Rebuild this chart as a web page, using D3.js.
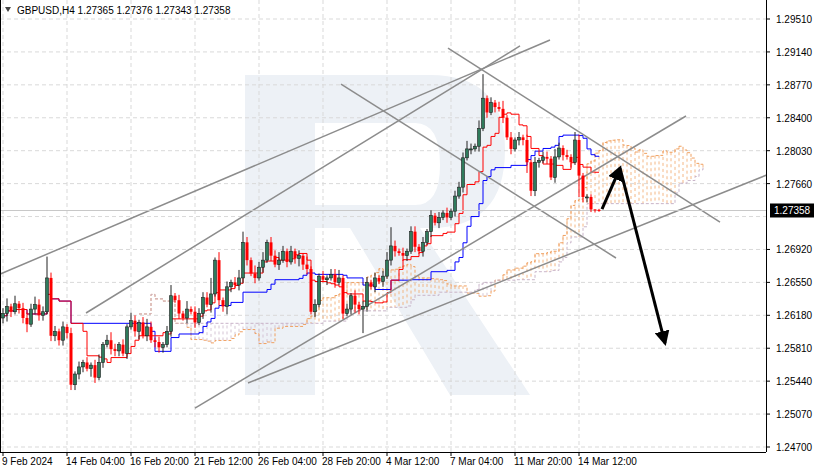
<!DOCTYPE html>
<html><head><meta charset="utf-8">
<script src="https://cdn.jsdelivr.net/npm/d3@7"></script>
<style>body{margin:0;background:#fff}svg{display:block;font-family:"Liberation Sans",Arial,sans-serif}</style>
</head><body><svg id="c" width="816" height="472"></svg>
<script>
'use strict';
var closes = [1.2620,1.2628,1.2622,1.2631,1.2626,1.2615,1.2608,1.2625,1.2630,1.2618,
  1.2622,1.2660,1.2595,1.2600,1.2590,1.2605,1.2598,1.2540,1.2552,1.2560,
  1.2565,1.2558,1.2562,1.2548,1.2565,1.2585,1.2590,1.2580,1.2578,1.2585,
  1.2575,1.2605,1.2612,1.2600,1.2610,1.2595,1.2605,1.2590,1.2588,1.2582,
  1.2585,1.2600,1.2640,1.2635,1.2620,1.2615,1.2625,1.2622,1.2610,1.2620,
  1.2638,1.2630,1.2642,1.2680,1.2635,1.2628,1.2650,1.2655,1.2652,1.2660,
  1.2700,1.2680,1.2665,1.2660,1.2672,1.2680,1.2700,1.2685,1.2675,1.2680,
  1.2690,1.2678,1.2690,1.2682,1.2685,1.2675,1.2670,1.2622,1.2630,1.2662,
  1.2658,1.2660,1.2664,1.2655,1.2660,1.2620,1.2625,1.2640,1.2630,1.2625,
  1.2628,1.2655,1.2650,1.2660,1.2656,1.2662,1.2680,1.2696,1.2690,1.2688,
  1.2685,1.2690,1.2712,1.2695,1.2690,1.2700,1.2712,1.2730,1.2722,1.2728,
  1.2733,1.2728,1.2735,1.2752,1.2762,1.2795,1.2805,1.2805,1.2808,1.2828,
  1.2862,1.2846,1.2857,1.2852,1.2850,1.2840,1.2818,1.2805,1.2815,1.2818,
  1.2815,1.2790,1.2758,1.2790,1.2792,1.2796,1.2794,1.2773,1.2796,1.2806,
  1.2798,1.2796,1.2790,1.2815,1.2775,1.2751,1.2751,1.2737,1.27365,1.27358];
// wick lengths, one digit per bar, unit = 3 pips
var wickUp = '2313122232' + '2822121212' + '1212312321' + '2132123212' + '1241213122' +
  '2261312123' + '4213231223' + '2121213121' + '2122312121' + '2212123721' +
  '2122121212' + '1212223213' + '9121231212' + '1212122132' + '1213211100';
var wickDn = '2321223122' + '2122222222' + '2132121222' + '1212312122' + '2121212121' +
  '2131223212' + '2212121212' + '1212322121' + '1212121232' + '9212121221' +
  '2212121212' + '1212121212' + '1212121212' + '2422212121' + '2121822111';
var priceTicks = [1.2951,1.2914,1.2877,1.2840,1.2803,1.2766,1.2729,1.2692,1.2655,1.2618,1.2581,1.2544,1.2507,1.2470];
var dateLabels = ['9 Feb 2024','14 Feb 04:00','16 Feb 20:00','21 Feb 12:00','26 Feb 04:00',
  '28 Feb 20:00','4 Mar 12:00','7 Mar 04:00','11 Mar 20:00','14 Mar 12:00'];
var trendLines = [
  [[-1.25,1.26633],[136.75,1.29274]],
  [[20.75,1.26206],[129.25,1.29207]],
  [[48,1.25138],[170.75,1.28420]],
  [[61.25,1.25419],[202.75,1.27970]],
  [[111.25,1.29184],[179.25,1.27228]],
  [[84.5,1.28779],[153.25,1.26824]]
];
var arrowPath = [[149.75,1.27374],[154.25,1.27835],[165.5,1.25868]];
var lastPrice = 1.27358;

var svg = d3.select('#c');
var x = d3.scaleLinear().domain([0, 1]).range([3, 7]);
var y = d3.scaleLinear().domain([1.2470, 1.2951]).range([447, 19]);
var plotR = 766;

var bars = closes.map((c, i) => {
  var o = i ? closes[i - 1] : 1.2615;
  if (i == closes.length - 1) o = 1.27365;
  return { i: i, o: o, c: c,
    h: Math.max(o, c) + (+wickUp[i] || 0) * 0.0003,
    l: Math.min(o, c) - (+wickDn[i] || 0) * 0.0003 };
});
bars[bars.length - 1].h = 1.27376; bars[bars.length - 1].l = 1.27343;

// watermark
svg.append('path').attr('fill', '#edf1f6').attr('fill-rule', 'evenodd')
  .attr('d', 'M245,75H430Q505,75 505,150Q505,228 430,228H420L530,395H450L350,228H315V395H245Z M315,123V205H415Q440,205 440,165Q440,123 415,123Z');

// grid
var grid = svg.append('g').attr('stroke', '#d9d9d9').attr('stroke-dasharray', '4,3');
grid.selectAll('line.h').data(priceTicks).join('line')
  .attr('x1', 0).attr('x2', plotR).attr('y1', d => y(d)).attr('y2', d => y(d));
grid.selectAll('line.v').data(dateLabels).join('line')
  .attr('x1', (d, i) => x(i * 16)).attr('x2', (d, i) => x(i * 16)).attr('y1', 0).attr('y2', 452);

// ichimoku
function mid(n, i) {
  var s = bars.slice(Math.max(0, i - n + 1), i + 1);
  return (d3.max(s, d => d.h) + d3.min(s, d => d.l)) / 2;
}
var tenkan = bars.map(b => mid(9, b.i));
var kijun = bars.map(b => mid(26, b.i));
var cloud = [];
bars.forEach(b => {
  if (b.i < 8) return;
  cloud.push({ i: b.i + 26, a: (tenkan[b.i] + kijun[b.i]) / 2, b: mid(52, b.i) });
});
svg.append('g').attr('opacity', 0.8).selectAll('line').data(cloud).join('line')
  .attr('x1', d => x(d.i)).attr('x2', d => x(d.i))
  .attr('y1', d => y(d.a)).attr('y2', d => y(d.b))
  .attr('stroke', d => d.a >= d.b ? '#f2a86a' : '#cdb9cd').attr('stroke-dasharray', '3,3');
var ln = (acc) => d3.line().x(d => x(d.i)).y(acc).curve(d3.curveStepAfter);
svg.append('path').datum(cloud).attr('d', ln(d => y(d.a))).attr('fill', 'none')
  .attr('stroke', '#f0a060').attr('stroke-dasharray', '3,2');
svg.append('path').datum(cloud).attr('d', ln(d => y(d.b))).attr('fill', 'none')
  .attr('stroke', '#c9b4c9').attr('stroke-dasharray', '3,2');
svg.append('path').datum(bars).attr('d', ln(d => y(kijun[d.i]))).attr('fill', 'none').attr('stroke', '#0000ff');
svg.append('path').datum(bars).attr('d', ln(d => y(tenkan[d.i]))).attr('fill', 'none').attr('stroke', '#ff0000');

// trend lines
svg.append('g').selectAll('line').data(trendLines).join('line')
  .attr('x1', d => x(d[0][0])).attr('y1', d => y(d[0][1]))
  .attr('x2', d => x(d[1][0])).attr('y2', d => y(d[1][1]))
  .attr('stroke', '#8c8c8c').attr('stroke-width', 1.5);
svg.append('line').attr('x1', 0).attr('x2', plotR).attr('y1', y(lastPrice)).attr('y2', y(lastPrice))
  .attr('stroke', '#c8c8c8');

// candles
var cg = svg.append('g').selectAll('g').data(bars).join('g');
cg.append('line').attr('x1', d => x(d.i)).attr('x2', d => x(d.i))
  .attr('y1', d => y(d.h)).attr('y2', d => y(d.l)).attr('stroke', d => d.c >= d.o ? '#222' : '#ff0000');
cg.append('rect').attr('x', d => x(d.i) - 1.5).attr('width', 3)
  .attr('y', d => y(Math.max(d.o, d.c))).attr('height', d => Math.max(1, Math.abs(y(d.o) - y(d.c))))
  .attr('fill', d => d.c >= d.o ? '#2f7b5c' : '#ff0000')
  .attr('stroke', d => d.c >= d.o ? '#1d1d1d' : 'none').attr('stroke-width', 0.6);

// arrows
svg.append('defs').append('marker').attr('id', 'ah').attr('viewBox', '0 0 10 10')
  .attr('refX', 8).attr('refY', 5).attr('markerWidth', 5).attr('markerHeight', 5).attr('orient', 'auto')
  .append('path').attr('d', 'M0,0L10,5L0,10Z').attr('fill', '#000');
[[arrowPath[0], arrowPath[1]], [arrowPath[1], arrowPath[2]]].forEach(s => {
  svg.append('line').attr('x1', x(s[0][0])).attr('y1', y(s[0][1]))
    .attr('x2', x(s[1][0])).attr('y2', y(s[1][1]))
    .attr('stroke', '#000').attr('stroke-width', 3).attr('marker-end', 'url(#ah)');
});

// axes
svg.append('rect').attr('x', plotR).attr('y', 0).attr('width', 50).attr('height', 472).attr('fill', '#fff');
svg.append('rect').attr('x', 0).attr('y', 452).attr('width', 816).attr('height', 20).attr('fill', '#fff');
svg.append('line').attr('x1', plotR + 0.5).attr('x2', plotR + 0.5).attr('y1', 0).attr('y2', 452).attr('stroke', '#000');
svg.append('line').attr('x1', 0).attr('x2', plotR).attr('y1', 452.5).attr('y2', 452.5).attr('stroke', '#000');
svg.append('line').attr('x1', 0.5).attr('x2', 0.5).attr('y1', 0).attr('y2', 452).attr('stroke', '#000');
var yt = svg.append('g').selectAll('g').data(priceTicks.filter(d => Math.abs(y(d) - y(lastPrice)) > 10)).join('g');
yt.append('line').attr('x1', plotR).attr('x2', plotR + 4).attr('y1', d => y(d)).attr('y2', d => y(d)).attr('stroke', '#000');
yt.append('text').attr('x', 776).attr('y', d => y(d) + 4).attr('font-size', 10).text(d => d.toFixed(5));
svg.selectAll('text.d').data(dateLabels).join('text')
  .attr('x', (d, i) => x(i * 16) - 1).attr('y', 465).attr('font-size', 10).text(d => d);
svg.selectAll('line.dt').data(dateLabels).join('line')
  .attr('x1', (d, i) => x(i * 16)).attr('x2', (d, i) => x(i * 16)).attr('y1', 452).attr('y2', 456).attr('stroke', '#000');
svg.append('rect').attr('x', 770).attr('y', y(lastPrice) - 7).attr('width', 44).attr('height', 14).attr('fill', '#000');
svg.append('text').attr('x', 774).attr('y', y(lastPrice) + 4).attr('font-size', 10).attr('fill', '#fff').text(lastPrice.toFixed(5));

// title
svg.append('path').attr('d', 'M5,7L11,7L8,12Z').attr('fill', '#444');
svg.append('text').attr('x', 17).attr('y', 14).attr('font-size', 10)
  .text('GBPUSD,H4  1.27365 1.27376 1.27343 1.27358');
</script></body></html>
